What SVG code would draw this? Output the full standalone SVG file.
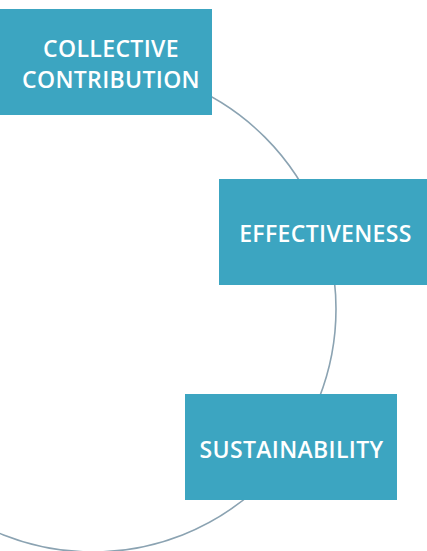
<svg xmlns="http://www.w3.org/2000/svg" width="427" height="551" viewBox="0 0 427 551">
<style>
.box{fill:#3ca5c1}
.lbl{font-family:"Open Sans","Noto Sans","Liberation Sans",sans-serif;font-weight:600;font-size:23px;fill:#ffffff;text-anchor:middle;letter-spacing:0.35px}
.ring{fill:none;stroke:#8ba3b2;stroke-width:1.6}
</style>
<rect width="427" height="551" fill="#ffffff"/>
<g id="connectors">
<circle class="ring" cx="93" cy="309" r="243"/>
</g>
<g id="collective-contribution">
<rect class="box" x="0" y="9" width="212" height="106"/>
<text class="lbl" x="111" y="57">COLLECTIVE</text>
<text class="lbl" x="111" y="87.5">CONTRIBUTION</text>
</g>
<g id="effectiveness">
<rect class="box" x="219" y="179" width="208" height="106"/>
<text class="lbl" x="325.5" y="241.5">EFFECTIVENESS</text>
</g>
<g id="sustainability">
<rect class="box" x="185" y="394" width="212" height="106"/>
<text class="lbl" x="291.5" y="457.5">SUSTAINABILITY</text>
</g>
</svg>
